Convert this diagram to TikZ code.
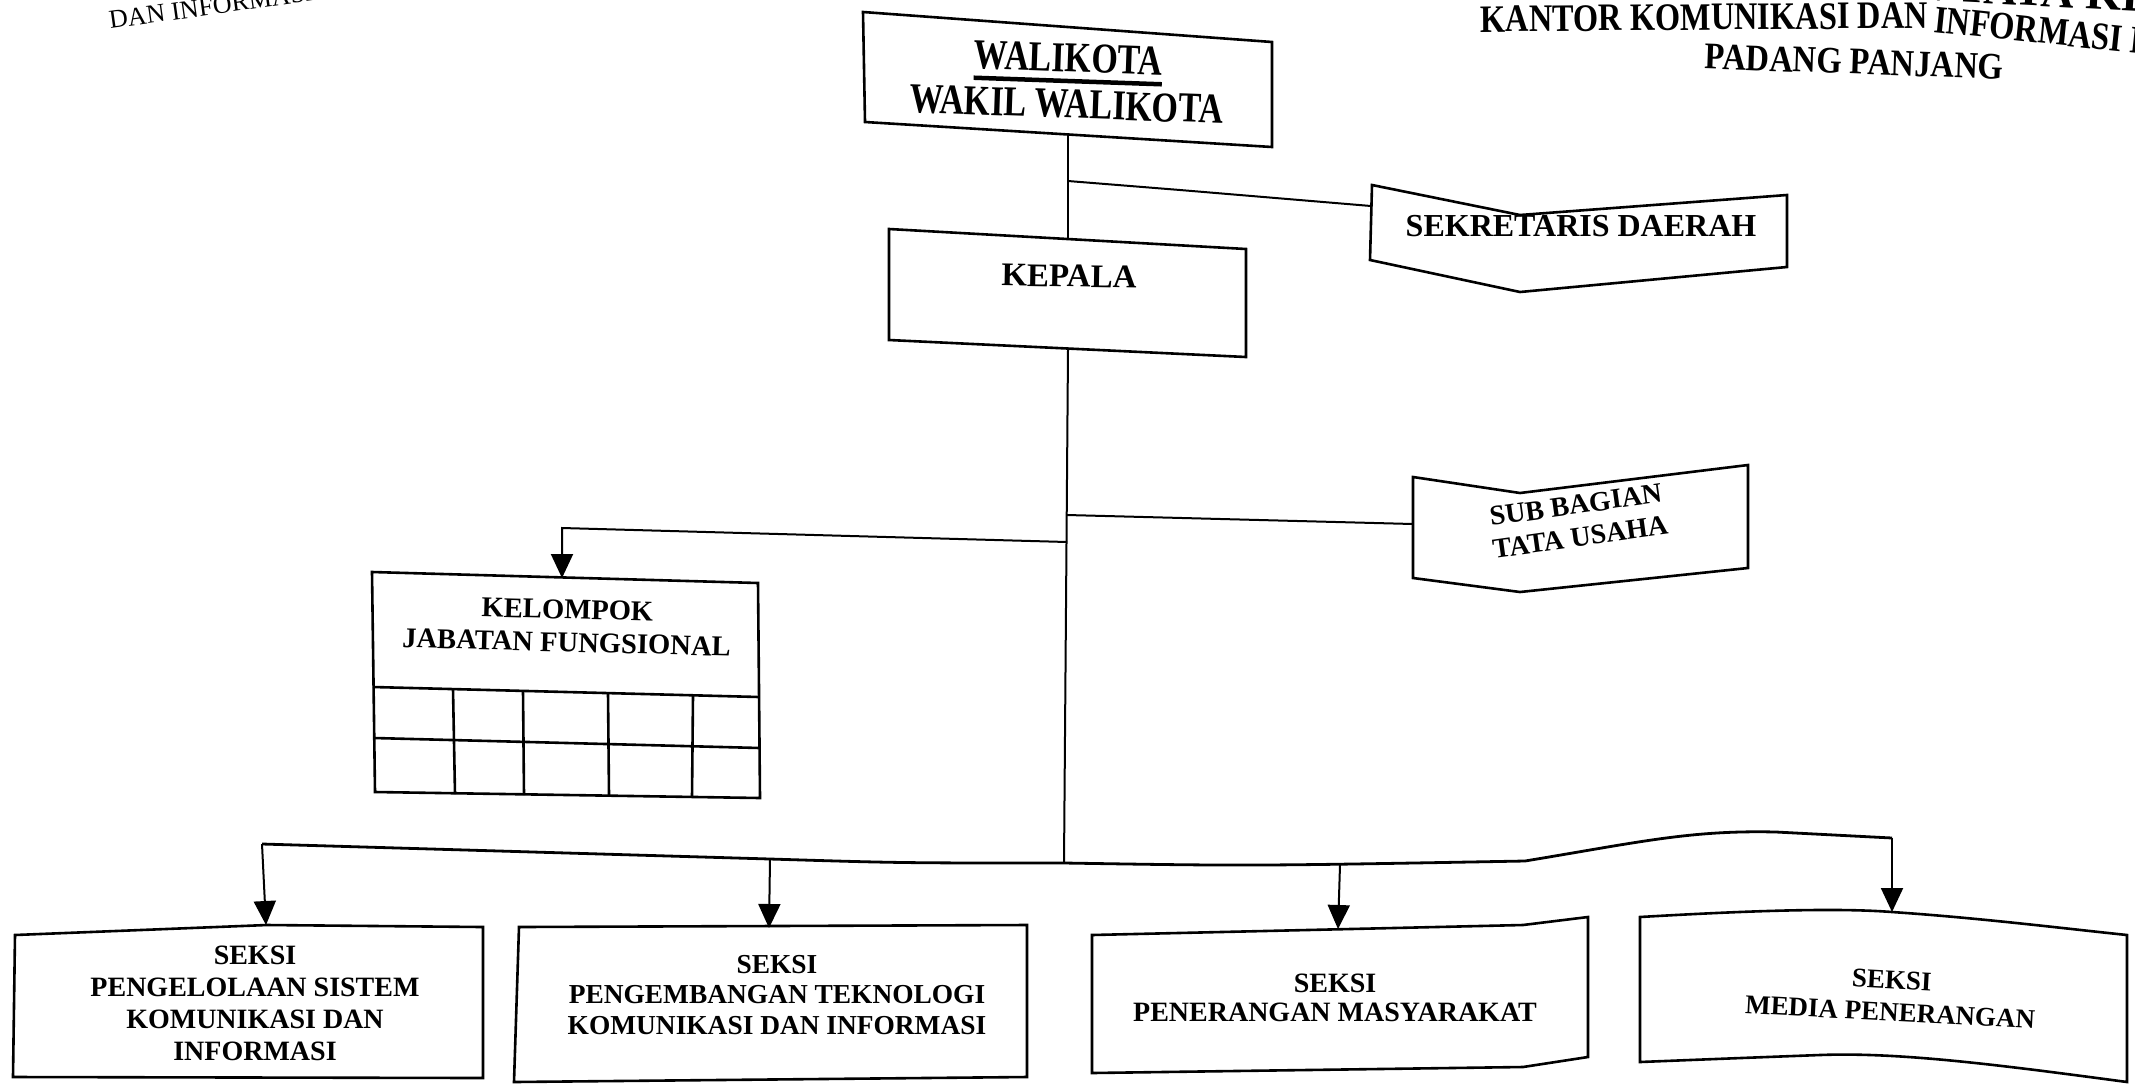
\documentclass[tikz,border=0pt]{standalone}
\usepackage{fontspec}
\usepackage{graphicx}
\setmainfont{Liberation Serif}
\usetikzlibrary{arrows.meta}
\newcommand\ulword[1]{\setbox0\hbox{#1}\rlap{\rule[-4.5pt]{\wd0}{1.8pt}}\box0}
\begin{document}
\begin{tikzpicture}[x=0.5pt,y=-0.5pt,
  box/.style={draw=black,line width=1.3pt,line join=miter},
  conn/.style={draw=black,line width=1pt},
  bus/.style={draw=black,line width=1.4pt},
  arr/.style={draw=black,line width=1pt,-{Triangle[width=11pt,length=12pt]}},
  txt/.style={align=center,inner sep=0pt},
  hdr/.style={inner sep=0pt,font=\bfseries\fontsize{16.2}{18}\selectfont,anchor=base west},
]
\fill[white] (0,0) rectangle (2135,1088);
\useasboundingbox (0,0) rectangle (2135,1088);

% headers
\node[inner sep=0pt,font=\fontsize{13}{15}\selectfont,anchor=base west,rotate=8] (hdrA) at (110,29) {DAN INFORMASI};
\node[inner sep=0pt,font=\bfseries\fontsize{23}{26}\selectfont,anchor=base west,rotate=-3] (hdrB) at (1845,-4) {DAN TATA KERJA};
\node[hdr,rotate=0.5] (hdrC) at (1480,32) {\scalebox{1}[1.2]{KANTOR KOMUNIKASI DAN}};
\node[hdr,rotate=-6] (hdrE) at (1933,32) {\scalebox{1}[1.2]{INFORMASI KOTA}};
\node[inner sep=0pt,font=\bfseries\fontsize{16.3}{20}\selectfont,anchor=base,rotate=-2] (hdrD) at (1854,74) {\scalebox{1}[1.15]{PADANG PANJANG}};

% walikota
\draw[box] (863,12) -- (1272,42) -- (1272,147) -- (865,122) -- cycle;
\node[txt,font=\bfseries\fontsize{17}{20}\selectfont,anchor=base,rotate=-2] (wal1) at (1068,72) {\scalebox{1}[1.25]{\ulword{WALIKOTA}}};
\node[txt,font=\bfseries\fontsize{17}{20}\selectfont,anchor=base,rotate=-2] (wal2) at (1066,118) {\scalebox{1}[1.25]{WAKIL WALIKOTA}};

% kepala
\draw[box] (889,229) -- (1246,249) -- (1246,357) -- (889,340) -- cycle;
\node[txt,font=\bfseries\fontsize{16.5}{20}\selectfont,rotate=-1] (kep) at (1069,276) {KEPALA};

% sekretaris daerah
\draw[box] (1372,185) -- (1520,215) -- (1787,195) -- (1787,267) -- (1520,292) -- (1370,260) -- cycle;
\node[txt,font=\bfseries\fontsize{16}{20}\selectfont] (sek) at (1581,226) {SEKRETARIS DAERAH};

% sub bagian
\draw[box] (1413,477) -- (1520,493) -- (1748,465) -- (1748,568) -- (1520,592) -- (1413,578) -- cycle;
\node[txt,font=\bfseries\fontsize{14}{16.3}\selectfont,rotate=8] (sub) at (1578,521) {SUB BAGIAN\\TATA USAHA};

% kelompok jabatan fungsional
\draw[box] (372,572) -- (758,583) -- (760,798) -- (375,792) -- cycle;
\draw[box] (373,687) -- (759,697);
\draw[box] (374,738) -- (760,748);
\draw[box] (453,689) -- (455,794);
\draw[box] (523,691) -- (524,795);
\draw[box] (608,693) -- (609,796);
\draw[box] (693,695) -- (692,797);
\node[txt,font=\bfseries\fontsize{14.3}{16.5}\selectfont,rotate=-1.5] (kel) at (567,626) {KELOMPOK\\JABATAN FUNGSIONAL};

% bottom boxes
\draw[box] (15,935) -- (267,925) -- (483,927) -- (483,1078) -- (13,1077) -- cycle;
\node[txt,font=\bfseries\fontsize{14}{16}\selectfont] (s1) at (255,1003) {SEKSI\\PENGELOLAAN SISTEM\\KOMUNIKASI DAN\\INFORMASI};

\draw[box] (519,927) -- (1027,925) -- (1027,1077) -- (514,1082) -- cycle;
\node[txt,font=\bfseries\fontsize{13.7}{15.3}\selectfont] (s2) at (777,995) {SEKSI\\PENGEMBANGAN TEKNOLOGI\\KOMUNIKASI DAN INFORMASI};

\draw[box] (1092,935) -- (1523,925) -- (1588,917) -- (1588,1057) -- (1523,1067) -- (1092,1073) -- cycle;
\node[txt,font=\bfseries\fontsize{14}{14.5}\selectfont] (s3) at (1335,998) {SEKSI\\PENERANGAN MASYARAKAT};

\draw[box] (1640,917) .. controls (1760,910) and (1840,908) .. (1892,912)
  .. controls (1980,918) and (2060,928) .. (2127,935) -- (2127,1082)
  .. controls (2000,1065) and (1900,1052) .. (1820,1055)
  .. controls (1740,1058) and (1690,1060) .. (1640,1062) -- cycle;
\node[txt,font=\bfseries\fontsize{13.5}{16}\selectfont,rotate=-3] (s4) at (1891,996) {SEKSI\\MEDIA PENERANGAN};

% connection points
\coordinate (walB) at (1068,135);
\coordinate (kepT) at (1068,239);
\coordinate (j1) at (1068,181);
\coordinate (sekL) at (1371,206);
\coordinate (kepB) at (1068,349);
\coordinate (j2) at (1067,515);
\coordinate (subL) at (1413,524);
\coordinate (j3) at (1067,542);
\coordinate (kelC) at (562,528);
\coordinate (kelT) at (562,578);
\coordinate (busC) at (1064,863);
\coordinate (b1) at (262,844);
\coordinate (b2) at (770,859);
\coordinate (b3) at (1340,865);
\coordinate (b4) at (1892,838);
\coordinate (s1T) at (266,925);
\coordinate (s2T) at (769,928);
\coordinate (s3T) at (1338,929);
\coordinate (s4T) at (1892,912);

% connectors
\draw[conn] (walB) -- (kepT);
\draw[conn] (j1) -- (1180,190) -- (sekL);
\draw[conn] (kepB) -- (busC);
\draw[conn] (j2) -- (subL);
\draw[arr] (j3) -- (kelC) -- (kelT);
\draw[bus] (b1) -- (b2) .. controls (900,863) .. (busC)
  .. controls (1250,866) .. (1525,861)
  .. controls (1640,842) and (1690,830) .. (1776,832) -- (b4);
\draw[arr] (b1) -- (s1T);
\draw[arr] (b2) -- (s2T);
\draw[arr] (b3) -- (s3T);
\draw[arr] (b4) -- (s4T);
\end{tikzpicture}
\end{document}
